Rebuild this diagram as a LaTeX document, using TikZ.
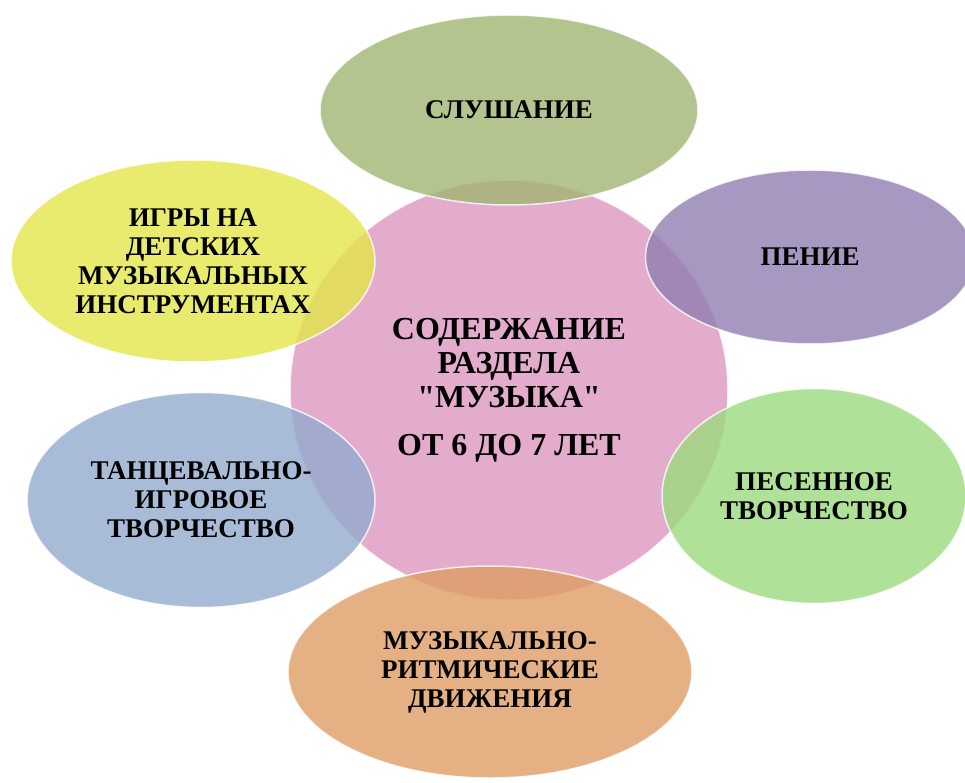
\documentclass[tikz,border=0pt]{standalone}
\usepackage{fontspec}
\setmainfont{Liberation Serif}[Ligatures=TeXOff]
\usetikzlibrary{shapes.geometric}
\definecolor{pinkcol}{RGB}{221,151,191}
\definecolor{slushcol}{RGB}{161,181,115}
\definecolor{peniecol}{RGB}{144,126,176}
\definecolor{pesencol}{RGB}{155,219,126}
\definecolor{dvizhcol}{RGB}{221,156,101}
\definecolor{taneccol}{RGB}{146,171,206}
\definecolor{igrycol}{RGB}{226,230,74}
\begin{document}
\begin{tikzpicture}[x=1pt,y=-1pt,
	blob/.style = {ellipse, draw=white, line width=1.5pt, draw opacity=0.8, fill opacity=0.8, text opacity=1,
		inner sep=0pt, align=center, font=\fontsize{27}{29}\selectfont\bfseries}]
	\useasboundingbox (0,0) rectangle (965,783);
	\node[blob,fill=pinkcol,minimum width=438pt,minimum height=420pt,
		font=\fontsize{32}{34}\selectfont\bfseries] (centr) at (509,390) {СОДЕРЖАНИЕ\\РАЗДЕЛА\\"МУЗЫКА"\\[14pt]ОТ 6 ДО 7 ЛЕТ};
	\node[blob,fill=slushcol,minimum width=378pt,minimum height=190pt] (slush) at (509,110) {СЛУШАНИЕ};
	\node[blob,fill=peniecol,minimum width=329pt,minimum height=174pt] (penie) at (810,257) {ПЕНИЕ};
	\node[blob,fill=pesencol,minimum width=304pt,minimum height=215pt] (pesen) at (814,496) {ПЕСЕННОЕ\\ТВОРЧЕСТВО};
	\node[blob,fill=dvizhcol,minimum width=404pt,minimum height=212pt] (dvizh) at (490,672) {МУЗЫКАЛЬНО-\\РИТМИЧЕСКИЕ\\ДВИЖЕНИЯ};
	\node[blob,fill=taneccol,minimum width=348pt,minimum height=215pt] (tanec) at (201,500) {ТАНЦЕВАЛЬНО-\\ИГРОВОЕ\\ТВОРЧЕСТВО};
	\node[blob,fill=igrycol,minimum width=364pt,minimum height=202pt] (igry) at (193,261) {ИГРЫ НА\\ДЕТСКИХ\\МУЗЫКАЛЬНЫХ\\ИНСТРУМЕНТАХ};
\end{tikzpicture}
\end{document}
